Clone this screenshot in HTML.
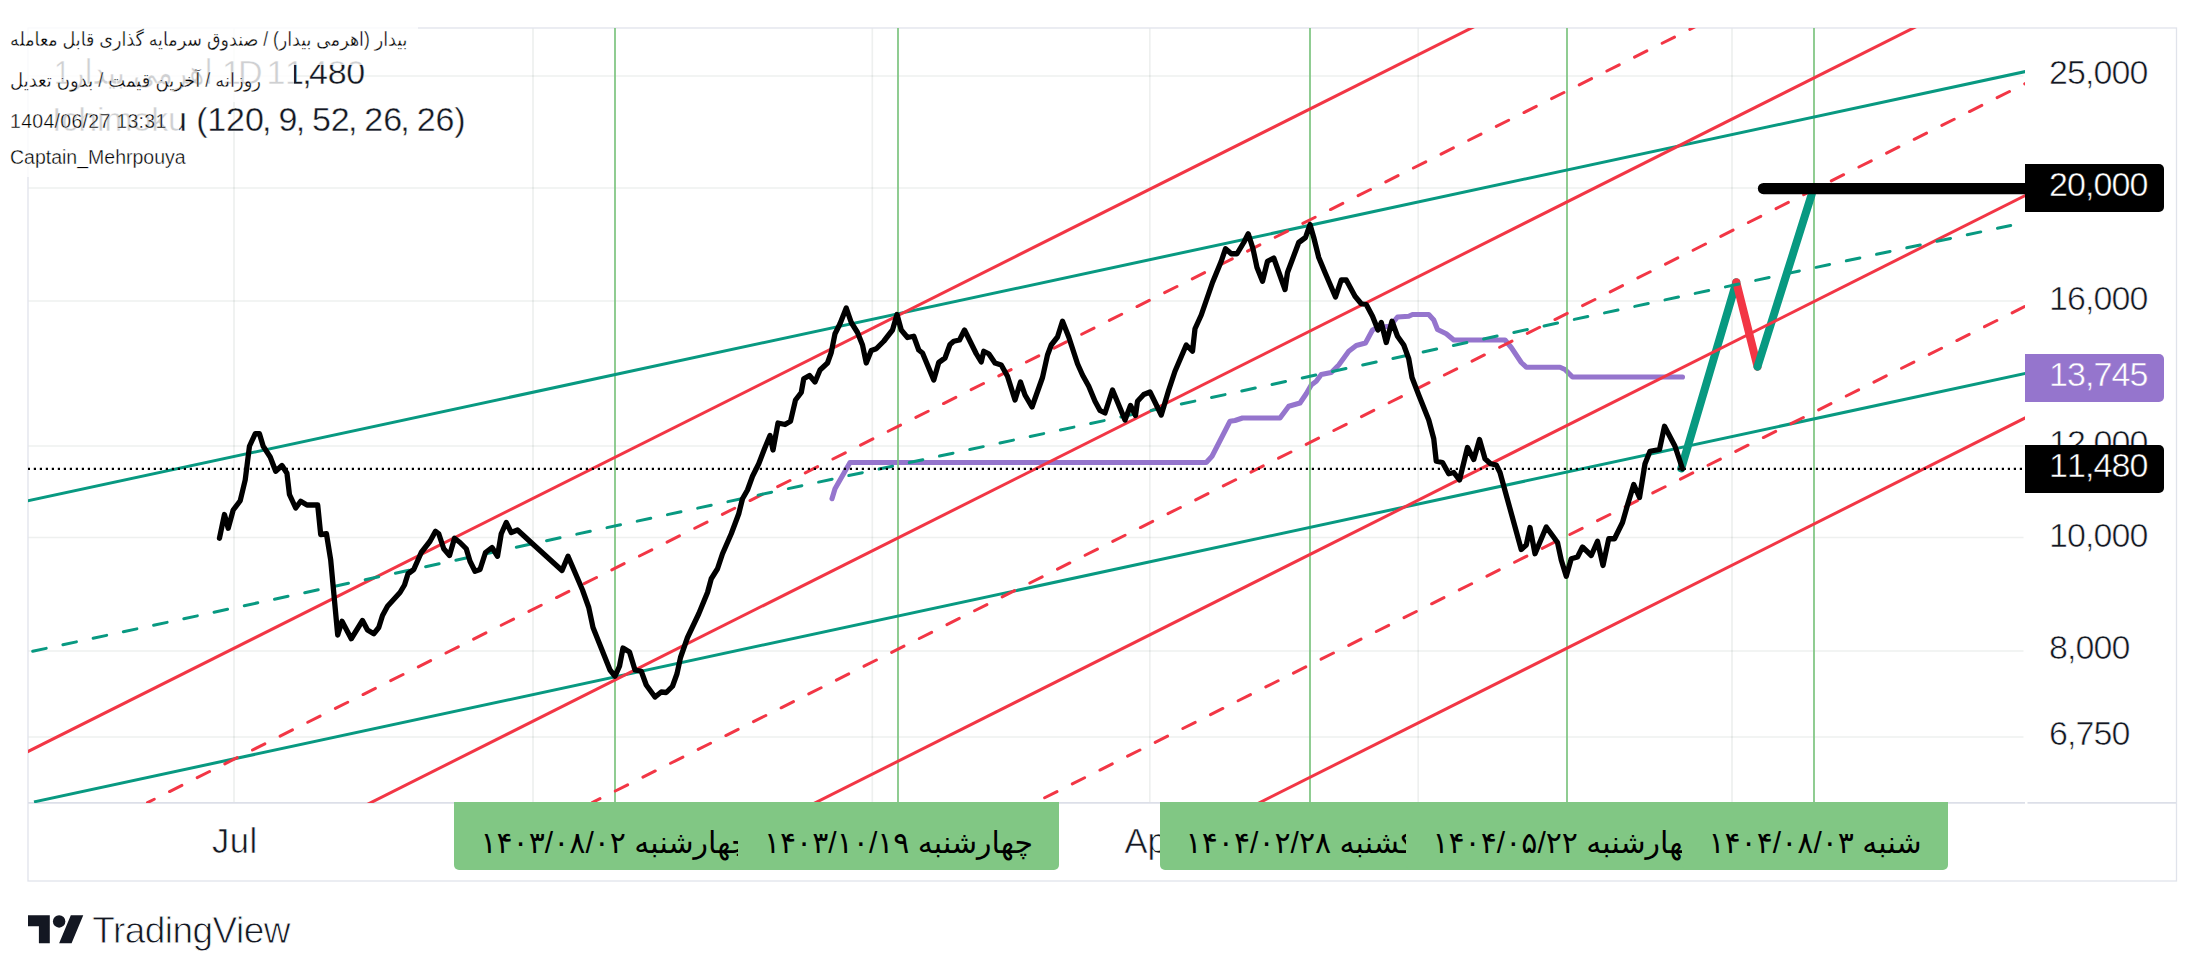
<!DOCTYPE html>
<html lang="fa"><head><meta charset="utf-8"><title>TradingView chart</title>
<style>
html,body{margin:0;padding:0;background:#fff}
body{width:2204px;height:979px;position:relative;overflow:hidden;font-family:"Liberation Sans","DejaVu Sans",sans-serif;color:#131722}
.abs{position:absolute;white-space:nowrap}
.ax{position:absolute;-webkit-text-stroke:0.6px #fff;font-kerning:none;left:2049px;font-size:34px;line-height:34px;letter-spacing:-0.9px;color:#131722}
.tag{position:absolute;font-kerning:none;left:2025px;width:139px;height:47.5px;border-radius:0 5px 5px 0;color:#fff;font-size:34px;line-height:34px;letter-spacing:-0.9px}
.tag span{position:absolute;left:24px;top:3px}
.thin{-webkit-text-stroke:0.6px #fff}
.tl{position:absolute;top:802px;height:68px;background:#81c784;border-radius:0 0 5px 5px;color:#000;font-size:30px;line-height:82px;text-align:center;direction:rtl;white-space:nowrap;overflow:hidden}
.lg{position:absolute;-webkit-text-stroke:0.4px #fff;font-size:34px;line-height:34px;white-space:nowrap;color:#131722;letter-spacing:-0.8px;font-kerning:none}
.lg i{font-style:normal;margin-left:-1.6px;margin-right:-2.2px}
.ov{position:absolute;left:0;background:rgba(255,255,255,0.8);color:#000;font-size:19.5px;white-space:nowrap}
.ov span{position:absolute;left:10px;white-space:nowrap;-webkit-text-stroke:0.35px #fff}
</style></head><body>
<svg width="2204" height="979" viewBox="0 0 2204 979" style="position:absolute;left:0;top:0">
<defs><clipPath id="pane"><rect x="28" y="28" width="1997" height="775"/></clipPath></defs>
<line x1="28" y1="76.0" x2="2023.5" y2="76.0" stroke="rgba(20,40,30,0.07)" stroke-width="1.7"/>
<line x1="28" y1="188" x2="2023.5" y2="188" stroke="rgba(20,40,30,0.07)" stroke-width="1.7"/>
<line x1="28" y1="301" x2="2023.5" y2="301" stroke="rgba(20,40,30,0.07)" stroke-width="1.7"/>
<line x1="28" y1="446" x2="2023.5" y2="446" stroke="rgba(20,40,30,0.07)" stroke-width="1.7"/>
<line x1="28" y1="537.5" x2="2023.5" y2="537.5" stroke="rgba(20,40,30,0.07)" stroke-width="1.7"/>
<line x1="28" y1="651" x2="2023.5" y2="651" stroke="rgba(20,40,30,0.07)" stroke-width="1.7"/>
<line x1="28" y1="737" x2="2023.5" y2="737" stroke="rgba(20,40,30,0.07)" stroke-width="1.7"/>
<line x1="234" y1="28" x2="234" y2="803" stroke="rgba(20,40,30,0.07)" stroke-width="1.7"/>
<line x1="533" y1="28" x2="533" y2="803" stroke="rgba(20,40,30,0.07)" stroke-width="1.7"/>
<line x1="872.3" y1="28" x2="872.3" y2="803" stroke="rgba(20,40,30,0.07)" stroke-width="1.7"/>
<line x1="1149.8" y1="28" x2="1149.8" y2="803" stroke="rgba(20,40,30,0.07)" stroke-width="1.7"/>
<line x1="1418.2" y1="28" x2="1418.2" y2="803" stroke="rgba(20,40,30,0.07)" stroke-width="1.7"/>
<line x1="1732" y1="28" x2="1732" y2="803" stroke="rgba(20,40,30,0.07)" stroke-width="1.7"/>
<rect x="28" y="28" width="2148.5" height="853" fill="none" stroke="#e0e3eb" stroke-width="1.3"/>
<line x1="28" y1="802.9" x2="2025" y2="802.9" stroke="#dcdfe8" stroke-width="1.8"/>
<line x1="2027.5" y1="802.9" x2="2176" y2="802.9" stroke="#dcdfe8" stroke-width="1.8"/>
<g clip-path="url(#pane)">
<polyline points="832.00,498.75 835.00,488.75 850.00,462.50 1206.25,462.50 1212.00,456.25 1230.00,421.25 1235.00,420.50 1242.50,418.00 1280.00,418.00 1288.75,406.25 1300.00,403.00 1306.25,393.75 1311.25,385.00 1316.25,381.25 1321.25,374.50 1331.25,372.50 1338.75,365.00 1348.75,351.25 1356.25,345.50 1365.50,343.00 1372.50,330.00 1377.50,327.50 1390.00,326.25 1397.50,317.00 1408.75,316.25 1412.50,314.50 1428.75,314.50 1433.75,320.00 1437.50,329.50 1446.25,333.75 1453.75,340.00 1505.00,340.00 1511.25,347.50 1521.25,362.50 1526.25,367.20 1560.00,367.20 1565.00,369.50 1572.50,377.00 1682.50,377.00" fill="none" stroke="#9575cd" stroke-width="5.1" stroke-linejoin="round" stroke-linecap="round"/>
<line x1="615" y1="28" x2="615" y2="803" stroke="#7cc47f" stroke-width="1.7"/>
<line x1="898" y1="28" x2="898" y2="803" stroke="#7cc47f" stroke-width="1.7"/>
<line x1="1310" y1="28" x2="1310" y2="803" stroke="#7cc47f" stroke-width="1.7"/>
<line x1="1567" y1="28" x2="1567" y2="803" stroke="#7cc47f" stroke-width="1.7"/>
<line x1="1814" y1="28" x2="1814" y2="803" stroke="#7cc47f" stroke-width="1.7"/>
<polyline points="1681.3,468.3 1736.3,282.3" fill="none" stroke="#089981" stroke-width="8" stroke-linecap="round"/>
<polyline points="1736.3,282.3 1757.5,366.6" fill="none" stroke="#f23645" stroke-width="8" stroke-linecap="round"/>
<polyline points="1757.5,366.6 1811.8,194" fill="none" stroke="#089981" stroke-width="8" stroke-linecap="round"/>
<line x1="20.18" y1="502.43" x2="2042.02" y2="67.94" stroke="#089981" stroke-width="3.0"/>
<line x1="34.00" y1="801.90" x2="2047.91" y2="368.57" stroke="#089981" stroke-width="3.0"/>
<line x1="-208.10" y1="869.81" x2="1714.00" y2="-93.54" stroke="#f23645" stroke-width="3.0"/>
<line x1="236.85" y1="869.91" x2="2158.20" y2="-94.93" stroke="#f23645" stroke-width="3.0"/>
<line x1="681.54" y1="869.89" x2="2603.09" y2="-94.55" stroke="#f23645" stroke-width="3.0"/>
<line x1="1125.68" y1="869.96" x2="3046.68" y2="-95.56" stroke="#f23645" stroke-width="3.0"/>
<line x1="147.50" y1="802.60" x2="1935.40" y2="-93.72" stroke="#f23645" stroke-width="3.0" stroke-linecap="round" stroke-dasharray="13.8 17.12" stroke-dashoffset="6.25"/>
<line x1="592.20" y1="802.60" x2="2379.80" y2="-94.32" stroke="#f23645" stroke-width="3.0" stroke-linecap="round" stroke-dasharray="13.8 17.12" stroke-dashoffset="5.07"/>
<line x1="1035.00" y1="802.60" x2="2822.99" y2="-93.56" stroke="#f23645" stroke-width="3.0" stroke-linecap="round" stroke-dasharray="13.8 17.12" stroke-dashoffset="20.12"/>
<line x1="28.00" y1="652.30" x2="2010.67" y2="225.46" stroke="#089981" stroke-width="3.0" stroke-linecap="round" stroke-dasharray="13.8 17.12" stroke-dashoffset="26.12"/>
<line x1="1763.5" y1="188.6" x2="2030" y2="188.6" stroke="#000" stroke-width="11.3" stroke-linecap="round"/>
<polyline points="219.45,538.25 224.45,514.50 228.20,528.25 233.20,510.00 240.20,500.75 245.20,480.00 249.45,446.25 255.20,433.75 259.45,433.75 263.20,446.25 270.20,457.00 275.70,471.25 281.95,465.50 286.95,473.25 289.45,494.50 295.70,508.00 300.70,501.25 306.95,505.00 317.70,505.00 320.70,534.50 326.45,533.75 330.70,560.00 337.70,635.00 342.00,621.25 351.25,638.75 362.50,620.50 367.50,630.00 373.75,633.75 378.75,627.50 382.50,615.50 387.50,606.25 400.00,592.50 404.50,585.00 408.00,573.75 413.75,569.50 421.25,552.50 430.00,541.25 435.50,531.25 438.75,533.75 443.75,548.75 449.50,555.50 454.50,538.25 460.00,542.50 466.25,548.75 470.00,561.25 475.00,571.25 480.00,569.50 485.50,552.50 492.00,547.50 497.50,556.25 501.25,533.75 506.25,522.50 511.25,532.50 517.50,530.00 532.50,543.75 562.00,570.50 568.00,556.25 575.00,572.50 582.50,590.00 588.75,607.50 593.00,627.50 600.00,645.00 610.00,670.00 615.00,676.25 619.50,666.25 623.00,648.00 629.50,652.00 635.00,670.00 641.25,671.25 646.25,685.00 655.00,697.00 661.25,692.00 666.25,692.50 672.50,686.25 677.00,673.75 680.50,657.50 687.50,637.50 698.75,613.75 707.50,592.50 711.25,578.75 717.50,568.75 722.50,553.75 731.25,533.75 738.75,513.75 742.50,498.75 747.50,490.00 752.50,476.25 758.75,463.75 764.50,448.75 770.00,435.50 773.00,450.00 778.00,423.00 785.00,424.50 790.50,421.25 795.50,400.00 801.25,392.50 803.75,378.75 809.50,375.50 815.00,382.00 820.00,370.00 827.50,363.00 831.25,352.50 835.00,333.75 840.00,323.75 846.25,308.00 851.25,322.50 857.50,332.50 862.50,345.00 866.25,363.00 871.25,350.50 876.25,348.75 883.75,341.25 892.50,330.00 897.00,314.50 901.25,330.00 907.50,337.50 913.75,336.25 918.75,350.00 922.50,353.00 933.75,380.00 938.75,362.50 945.00,358.00 950.00,344.50 953.75,341.25 959.50,340.00 964.50,330.00 976.25,353.75 981.25,362.00 983.75,351.25 988.75,353.75 995.00,363.00 1001.25,365.00 1007.50,376.25 1015.00,400.00 1020.50,382.00 1025.00,395.00 1032.00,407.00 1042.50,377.50 1047.50,355.00 1051.25,345.00 1057.50,337.00 1062.50,321.25 1068.75,337.00 1077.50,363.75 1082.50,375.00 1088.75,386.25 1095.00,401.25 1100.00,410.50 1105.00,413.00 1112.50,390.00 1125.00,420.00 1130.50,405.50 1135.50,415.50 1137.50,401.25 1143.75,394.50 1150.00,392.00 1161.25,415.00 1168.75,390.00 1175.00,371.25 1186.25,345.00 1192.50,351.25 1195.00,328.75 1201.25,315.00 1212.50,282.50 1221.25,261.25 1225.50,248.75 1231.25,253.75 1237.00,253.75 1243.75,242.50 1248.25,233.75 1253.00,248.75 1257.00,267.50 1262.50,281.25 1267.50,261.25 1273.75,258.00 1285.00,289.50 1287.50,272.50 1298.75,242.50 1305.50,237.50 1310.00,224.50 1313.75,237.50 1318.75,257.50 1325.00,272.50 1335.50,297.00 1341.25,280.00 1346.25,280.00 1355.00,296.25 1361.25,303.75 1366.25,304.50 1372.50,316.25 1378.00,330.00 1381.25,322.50 1386.25,342.50 1392.00,321.25 1397.50,336.25 1403.75,345.00 1408.75,358.75 1412.00,377.50 1418.75,395.00 1428.75,420.00 1433.75,438.75 1436.25,461.25 1442.50,462.50 1448.75,473.75 1453.75,472.50 1459.50,480.00 1467.50,447.50 1473.75,459.50 1479.50,439.50 1485.00,458.75 1490.50,463.75 1496.25,465.00 1500.00,472.50 1521.25,549.50 1526.25,545.00 1530.00,527.50 1535.00,553.75 1546.25,527.00 1557.50,542.50 1561.25,560.00 1566.25,576.25 1571.25,558.75 1577.50,557.00 1582.50,547.00 1591.25,555.50 1597.50,541.25 1603.00,565.50 1608.75,538.75 1614.50,538.75 1622.50,522.50 1627.50,505.00 1633.75,484.50 1639.50,497.50 1645.00,463.75 1650.00,451.25 1659.50,449.50 1664.50,426.25 1675.00,446.25 1682.50,468.75" fill="none" stroke="#000" stroke-width="5.3" stroke-linejoin="round" stroke-linecap="round"/>
<line x1="27.8" y1="468.9" x2="2025" y2="468.9" stroke="#000" stroke-width="2.3" stroke-dasharray="2.2 3.8"/>
</g>
</svg>
<!-- price axis -->
<div class="ax" style="top:55px">25,000</div>
<div class="ax" style="top:281px">16,000</div>
<div class="ax" style="top:425px">12,000</div>
<div class="ax" style="top:518px">10,000</div>
<div class="ax" style="top:630px">8,000</div>
<div class="ax" style="top:716px">6,750</div>
<div class="tag" style="top:164.3px;background:#000"><span style="-webkit-text-stroke:0.5px #000">20,000</span></div>
<div class="tag" style="top:354.2px;background:#9575cd"><span style="-webkit-text-stroke:0.5px #9575cd">13,745</span></div>
<div class="tag" style="top:445.2px;background:#000"><span style="-webkit-text-stroke:0.5px #000">11,480</span></div>
<!-- time axis -->
<div class="abs thin" style="left:212px;top:824.3px;font-size:34.5px;line-height:34.5px;letter-spacing:0.5px">Jul</div>
<div class="abs thin" style="left:1124.5px;top:824.3px;font-size:34.5px;line-height:34.5px;letter-spacing:0px">Apr</div>
<div class="tl" style="left:454px;width:322px">چهارشنبه ۱۴۰۳/۰۸/۰۲</div>
<div class="tl" style="left:738px;width:321px">چهارشنبه ۱۴۰۳/۱۰/۱۹</div>
<div class="tl" style="left:1160px;width:291px;padding-right:9px">یکشنبه ۱۴۰۴/۰۲/۲۸</div>
<div class="tl" style="left:1406px;width:322px">چهارشنبه ۱۴۰۴/۰۵/۲۲</div>
<div class="tl" style="left:1682px;width:266px">شنبه ۱۴۰۴/۰۸/۰۳</div>
<!-- legend (under overlay) -->
<div class="lg" style="left:54px;top:55px;transform-origin:0 0;transform:scaleX(0.86)"><span dir="rtl">اهرمی بیدار1</span></div>
<div class="lg" style="left:222px;top:55px;letter-spacing:-3px">1D</div>
<div class="lg" style="left:266.5px;top:55px;letter-spacing:-0.3px">11<i style="margin-left:-1.6px">,</i>480</div>
<div class="lg" style="left:52px;top:102px;letter-spacing:-0.15px">Ichimoku</div>
<div class="lg" style="left:196.2px;top:102px;letter-spacing:-0.15px">(120<i>,</i> 9<i>,</i> 52<i>,</i> 26<i>,</i> 26)</div>
<!-- overlay -->
<div class="ov" style="top:0;height:64.5px;width:418px"><span dir="rtl" style="top:27.5px;transform-origin:0 0;transform:scaleX(0.898)">بیدار (اهرمی بیدار) / صندوق سرمایه گذاری قابل معامله</span></div>
<div class="ov" style="top:64.5px;height:37.5px;width:293.6px"><span dir="rtl" style="top:4px;transform-origin:0 0;transform:scaleX(0.924)">روزانه / آخرین قیمت / بدون تعدیل</span></div>
<div class="ov" style="top:102px;height:38.5px;width:178.5px"><span style="top:7.5px;letter-spacing:0.3px">1404/06/27 13:31</span></div>
<div class="ov" style="top:140.5px;height:36px;width:197px"><span style="top:5px">Captain_Mehrpouya</span></div>
<!-- logo -->
<svg style="position:absolute;left:28px;top:908.6px" width="56.05" height="43.6" viewBox="0 0 36 28"><path fill="#131722" d="M14 22H7V11H0V4h14v18zM28 22h-8l7.5-18h8L28 22z"/><circle fill="#131722" cx="20" cy="8" r="4"/></svg>
<div class="abs" style="-webkit-text-stroke:0.8px #fff;left:92.3px;top:908.6px;font-size:37px;line-height:44px;letter-spacing:-0.55px;color:#131722">TradingView</div>
</body></html>
